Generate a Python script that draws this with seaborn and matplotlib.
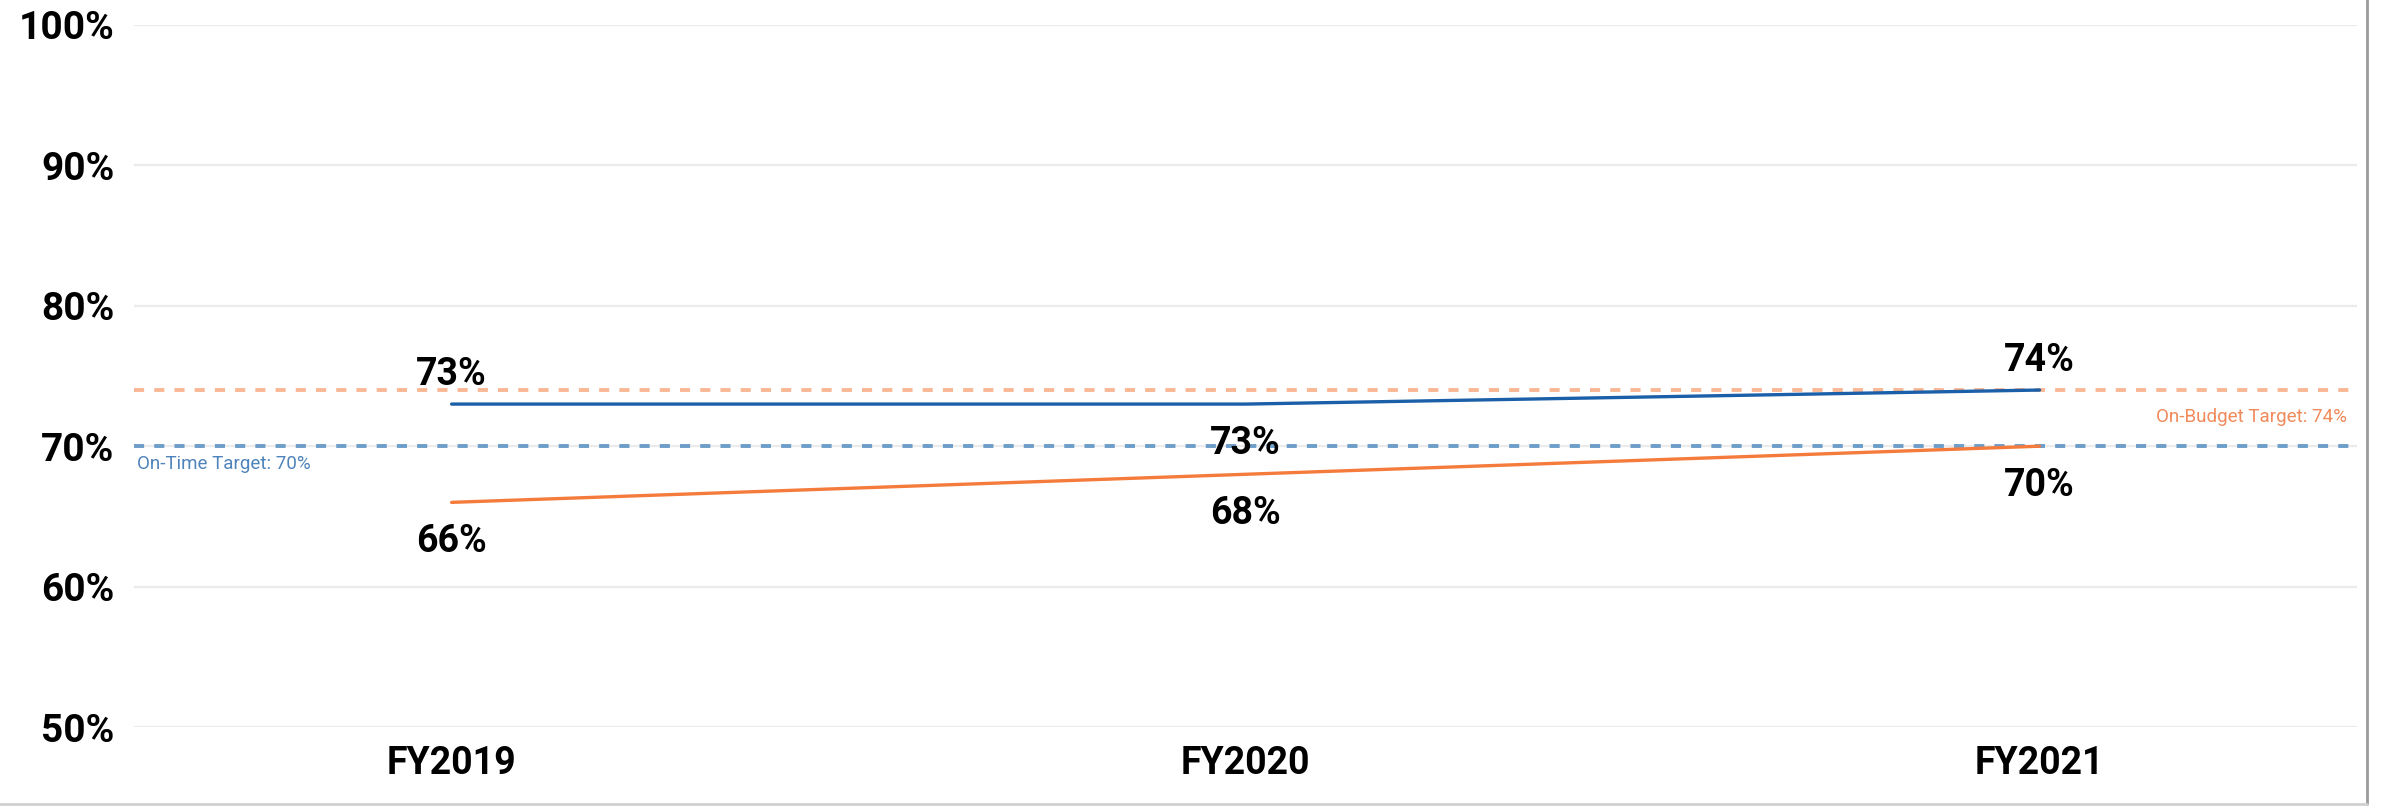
import pandas as pd
import numpy as np
import matplotlib
matplotlib.use("Agg")
import matplotlib.pyplot as plt
import seaborn as sns
from matplotlib.lines import Line2D

# data
years = ["FY2019", "FY2020", "FY2021"]
on_time = [73, 73, 74]
on_budget = [66, 68, 70]
on_time_target = 70
on_budget_target = 74
y_ticks = [50, 60, 70, 80, 90, 100]

# label placement: True = above the point
on_time_above = [True, False, True]
on_budget_above = [False, False, False]

blue = "#1a5fa8"
orange = "#f47b3c"
blue_target = "#6d9dc9"
orange_target = "#f9b895"

sns.set_theme(style="white")
plt.rcParams["font.family"] = ["Roboto", "DejaVu Sans"]
plt.rcParams["text.color"] = "black"
plt.rcParams["xtick.color"] = "black"
plt.rcParams["ytick.color"] = "black"

df = pd.DataFrame({
    "year": years * 2,
    "value": on_time + on_budget,
    "series": ["On-Time"] * 3 + ["On-Budget"] * 3,
})

fig = plt.figure(figsize=(23.85, 8.06), dpi=100)
ax = fig.add_axes([0.0562, 0.098, 0.9321, 0.871])

ax.set_yticks(y_ticks)
ax.grid(axis="y", color="#ebebeb", linewidth=1.6, zorder=0)

sns.lineplot(data=df, x="year", y="value", hue="series",
             palette={"On-Time": blue, "On-Budget": orange},
             linewidth=2.4, legend=False, ax=ax, zorder=3)

ax.axhline(on_budget_target, color=orange_target, linestyle=(0, (2.6, 2.6)),
           linewidth=2.8, zorder=2)
ax.axhline(on_time_target, color=blue_target, linestyle=(0, (2.6, 2.6)),
           linewidth=2.8, zorder=2)

ax.text(0.0012, on_time_target - 1.25, f"On-Time Target: {on_time_target}%",
        transform=ax.get_yaxis_transform(), ha="left", va="center",
        fontsize=13.5, color="#4f83bb")
ax.text(0.9955, on_budget_target - 1.9, f"On-Budget Target: {on_budget_target}%",
        transform=ax.get_yaxis_transform(), ha="right", va="center",
        fontsize=13.5, color="#f08a5a")

for vals, above in [(on_time, on_time_above), (on_budget, on_budget_above)]:
    for i, (v, up) in enumerate(zip(vals, above)):
        ax.annotate(f"{v}%", (i, v), xytext=(0, 21.5 if up else -28.5),
                    textcoords="offset points", ha="center", va="center",
                    fontsize=27, fontweight="semibold", color="black")

ax.set_ylim(50, 100)
ax.set_xlim(-0.4, 2.4)
ax.set_yticklabels([f"{t}%" for t in y_ticks], fontsize=28, fontweight="bold")
ax.set_xticks(range(len(years)))
ax.set_xticklabels(years, fontsize=27, fontweight="bold")
ax.tick_params(axis="y", length=0, pad=14)
ax.tick_params(axis="x", length=0, pad=13)
ax.set_xlabel("")
ax.set_ylabel("")
sns.despine(ax=ax, left=True, bottom=True)

# frame of the visual (right and bottom edge)
fig.add_artist(Line2D([0.9925, 0.9925], [0.003, 1.0], color="#9a9a9a", linewidth=2))
fig.add_artist(Line2D([0.0, 0.9925], [0.003, 0.003], color="#d0d0d0", linewidth=2))

fig.savefig("out.png", dpi=100)
